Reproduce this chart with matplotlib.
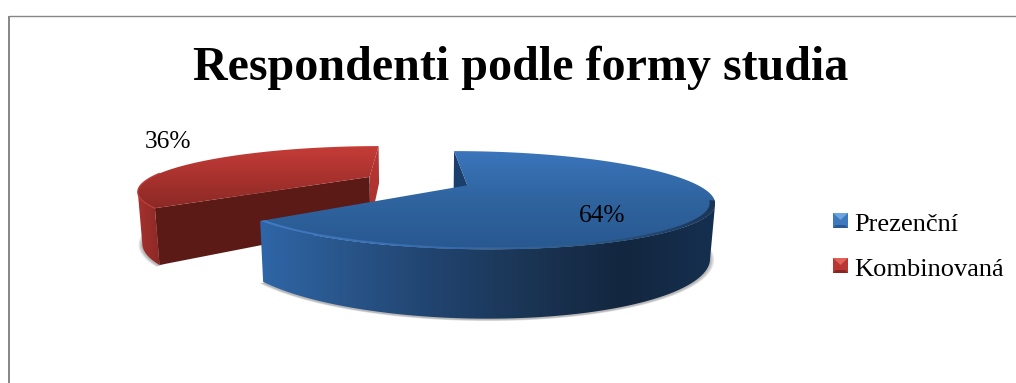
import numpy as np
import matplotlib
matplotlib.use('Agg')
import matplotlib.pyplot as plt
from matplotlib.colors import LinearSegmentedColormap
from matplotlib.patches import Polygon

title = 'Respondenti podle formy studia'
categories = ['Prezenční', 'Kombinovaná']
shares = [64, 36]
share_labels = ['64%', '36%']

# perspective of the pie, in pixels of the figure
cx, cy = 417, 181
A, B, H = 224, 42, 49
k, m = 0.294, 0.015
explode = 0.24
first_angle = -0.5

plt.rcParams['font.family'] = ['Liberation Serif', 'DejaVu Serif']

fig = plt.figure(figsize=(10.16, 3.83), dpi=100)
ax = fig.add_axes([0, 0, 1, 1])
ax.set_xlim(0, 1016)
ax.set_ylim(383, 0)
ax.axis('off')


def project(x, d, z=0):
    w = 1 - k * d + m * z
    return cx + A * x / w, cy + (B * d + H * z) / w


def rim(x0, d0, a, b, z=0, r=1.0):
    t = np.radians(np.linspace(a, b, 240))
    return project(x0 + r * np.sin(t), d0 - r * np.cos(t), z)


def corner(x0, d0, a, z=0):
    t = np.radians(a)
    return project(x0 + np.sin(t), d0 - np.cos(t), z)


def grad_fill(xs, ys, colors, vertical=True, z=2):
    # gradient image clipped to the polygon
    pts = np.column_stack([xs, ys])
    x1, x2, y1, y2 = pts[:, 0].min(), pts[:, 0].max(), pts[:, 1].min(), pts[:, 1].max()
    cmap = LinearSegmentedColormap.from_list('g', colors)
    g = np.linspace(0, 1, 256)
    g = g.reshape(-1, 1) if vertical else g.reshape(1, -1)
    im = ax.imshow(g, cmap=cmap, extent=[x1, x2, y2, y1], aspect='auto', zorder=z, vmin=0, vmax=1)
    patch = Polygon(pts, closed=True, transform=ax.transData, fc='none', ec='none')
    ax.add_patch(patch)
    im.set_clip_path(patch)


def ground_shadow(x0, d0, a, b, z):
    xs, ys = rim(x0, d0, a, b, 1)
    ox, oy = project(x0, d0, 1)
    for grow in [1.016, 1.010, 1.005]:
        ax.add_patch(Polygon(np.column_stack([ox + (xs - ox) * grow, oy + (ys - oy) * grow + 1]),
                             closed=True, fc='#555555', ec='none', alpha=0.16, zorder=z))


def wall(x0, d0, a, b, colors, z, right=True):
    # outer wall, cut where the rim turns away from the viewer
    sx, sy = rim(x0, d0, a, b)
    ex, ey = rim(x0, d0, a, b, 1)
    pick = np.argmax if right else np.argmin
    i, j = pick(sx), pick(ex)
    if right:
        xs, ys = np.r_[sx[i:], ex[j:][::-1]], np.r_[sy[i:], ey[j:][::-1]]
    else:
        xs, ys = np.r_[sx[:i + 1], ex[:j + 1][::-1]], np.r_[sy[:i + 1], ey[:j + 1][::-1]]
    grad_fill(xs, ys, colors, vertical=False, z=z)


# slice angles clockwise from the back of the pie
spans = np.array(shares) / sum(shares) * 360
blue_a, blue_b = first_angle, first_angle + spans[0]
red_a, red_b = blue_b, blue_b + spans[1]
blue_mid = np.radians((blue_a + blue_b) / 2)
red_mid = np.radians((red_a + red_b) / 2)
bx, bd = explode * np.sin(blue_mid), -explode * np.cos(blue_mid)
rx, rd = explode * np.sin(red_mid), -explode * np.cos(red_mid)

# red slice, further back so it goes first
ground_shadow(rx, rd, red_a, red_b, 1)
ax_r = project(rx, rd)
ax_rb = project(rx, rd, 1)
# inner face turned to the right
p, q = corner(rx, rd, red_b), corner(rx, rd, red_b, 1)
grad_fill([ax_r[0], p[0], q[0], ax_rb[0]], [ax_r[1], p[1], q[1], ax_rb[1]], ['#b83733', '#a8322e'], z=2)
# cut face towards the viewer
p, q = corner(rx, rd, red_a), corner(rx, rd, red_a, 1)
ax.add_patch(Polygon([ax_r, p, q, ax_rb], closed=True, fc='#5c1a16', ec='none', zorder=2.1))
wall(rx, rd, red_a, red_a + 90, ['#a5312d', '#8c2925'], 2.2, right=False)
# top
sx, sy = rim(rx, rd, red_a, red_b)
grad_fill(np.r_[ax_r[0], sx], np.r_[ax_r[1], sy], ['#c63d38', '#a9322e', '#8b2925'], z=2.3)
sx, sy = rim(rx, rd, red_a, red_a + 45)
ax.plot(sx, sy, color='#b83d38', lw=1.0, zorder=2.4)

# blue slice
ground_shadow(bx, bd, 40, blue_b, 3)
ax_b = project(bx, bd)
ax_bb = project(bx, bd, 1)
# back cut face, only the part seen through the notch stays visible
p, q = corner(bx, bd, blue_a), corner(bx, bd, blue_a, 1)
ax.add_patch(Polygon([ax_b, p, q, ax_bb], closed=True, fc='#1b3f6b', ec='none', zorder=4))
wall(bx, bd, 30, blue_b, ['#2f66a7', '#285488', '#20426c', '#1a3453', '#13263f', '#15304f'], 4.1)
# top
sx, sy = rim(bx, bd, blue_a, blue_b)
grad_fill(np.r_[ax_b[0], sx], np.r_[ax_b[1], sy], ['#3b75bc', '#2f649f', '#295890'], z=4.2)
# bevel along the front rim
ox, oy = rim(bx, bd, 108, blue_b)
ix, iy = rim(bx, bd, 108, blue_b, 0, 0.98)
grad_fill(np.r_[ox, ix[::-1]], np.r_[oy, iy[::-1]],
          ['#3f7ac4', '#3a72b8', '#3468a8', '#2a5684', '#1b3556'], vertical=False, z=4.3)

# percentage labels
ax.text(602, 222, share_labels[0], ha='center', va='baseline', fontsize=18.3, color='black', zorder=6)
ax.text(168, 148, share_labels[1], ha='center', va='baseline', fontsize=18.3, color='black', zorder=6)

ax.text(520.5, 80.5, title, ha='center', va='baseline', fontsize=34.6, fontweight='bold', color='black')

# legend with bevelled keys
key_colors = [('#6aa5e0', '#3e78bd', '#2a5a94'),
              ('#e0605a', '#b83733', '#8a2622')]
for name, y, base, (top, side, low) in zip(categories, [220.5, 265.5], [231, 276], key_colors):
    x0, x1 = 833, 848
    y0, y1 = y - 7.5, y + 7.5
    ax.add_patch(Polygon([(x0, y0), (x1, y0), (x1, y1), (x0, y1)], closed=True, fc=side, ec='none', zorder=5))
    ax.add_patch(Polygon([(x0, y0), (x1, y0), (x0 + 7.5, y0 + 7)], closed=True, fc=top, ec='none', zorder=5.1))
    ax.add_patch(Polygon([(x0, y1), (x1, y1), (x1 - 3, y1 - 3), (x0 + 3, y1 - 3)], closed=True, fc=low, ec='none', zorder=5.1))
    ax.text(854, base, name, ha='left', va='baseline', fontsize=19, color='black')

# chart frame
ax.plot([9, 9], [383, 15.5], color='#868686', lw=1.4, solid_capstyle='butt', zorder=1)
ax.plot([8.5, 1016], [15.5, 15.5], color='#868686', lw=1.0, solid_capstyle='butt', zorder=1)
ax.set_xlim(0, 1016)
ax.set_ylim(383, 0)

fig.savefig('out.png', dpi=100)
